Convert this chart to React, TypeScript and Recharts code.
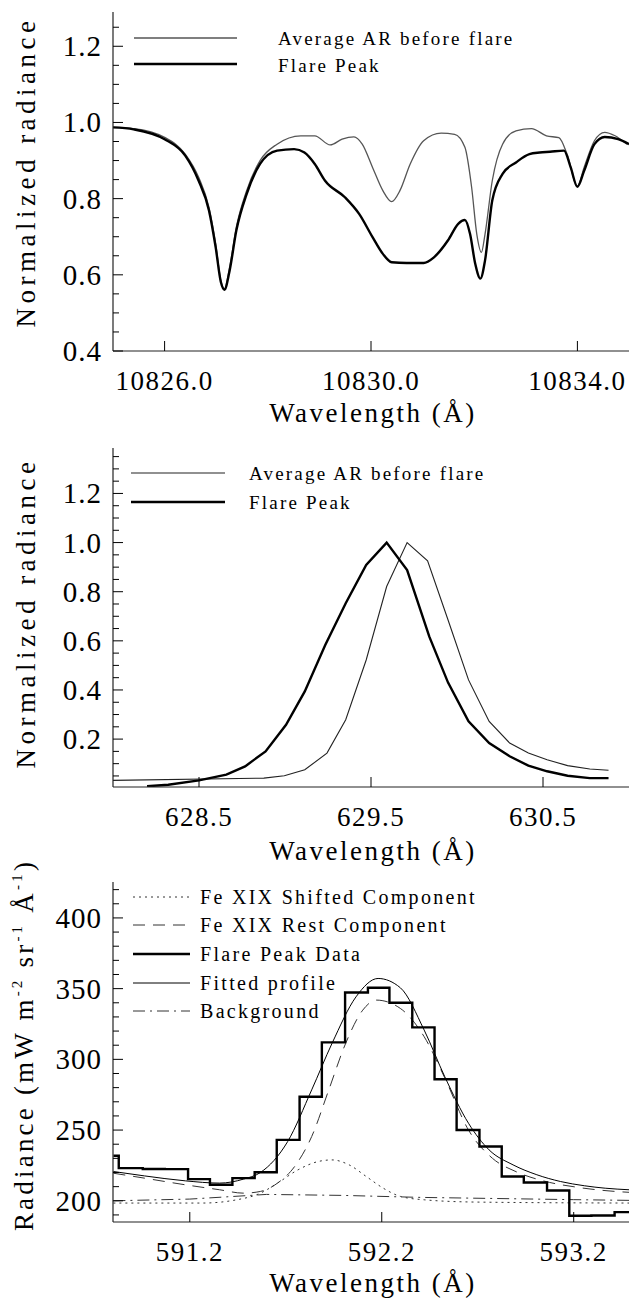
import React from 'react';
import { LineChart, Line, XAxis, YAxis } from 'recharts';

// ---- panel 1: He I 10830 region ----
const p1Wave = [10825.0, 10825.4, 10826.0, 10826.4, 10826.66, 10826.86, 10826.99, 10827.09, 10827.16, 10827.26, 10827.39, 10827.59, 10827.85, 10828.18, 10828.64, 10828.91, 10829.21, 10829.44, 10829.67, 10829.83, 10830.03, 10830.23, 10830.4, 10830.56, 10830.76, 10831.02, 10831.36, 10831.62, 10831.82, 10831.95, 10832.05, 10832.14, 10832.21, 10832.35, 10832.55, 10832.81, 10833.11, 10833.4, 10833.64, 10833.8, 10834.0, 10834.13, 10834.33, 10834.53, 10834.73, 10834.96];
const p1Avg = [0.987, 0.984, 0.961, 0.917, 0.856, 0.777, 0.681, 0.585, 0.563, 0.62, 0.725, 0.821, 0.9, 0.943, 0.965, 0.965, 0.941, 0.956, 0.962, 0.943, 0.882, 0.821, 0.792, 0.821, 0.891, 0.952, 0.972, 0.969, 0.935, 0.83, 0.707, 0.659, 0.707, 0.847, 0.943, 0.978, 0.984, 0.965, 0.96, 0.917, 0.833, 0.882, 0.952, 0.974, 0.965, 0.943];
const p1FlareWave = [10825.0, 10825.4, 10826.0, 10826.4, 10826.66, 10826.86, 10826.99, 10827.09, 10827.16, 10827.26, 10827.39, 10827.59, 10827.85, 10828.18, 10828.51, 10828.71, 10828.91, 10829.11, 10829.5, 10829.77, 10830.03, 10830.23, 10830.4, 10830.69, 10831.02, 10831.22, 10831.49, 10831.69, 10831.82, 10831.92, 10832.02, 10832.12, 10832.21, 10832.35, 10832.55, 10832.81, 10833.07, 10833.27, 10833.47, 10833.74, 10833.87, 10834.0, 10834.13, 10834.33, 10834.53, 10834.79, 10835.0];
const p1Flare = [0.987, 0.982, 0.956, 0.913, 0.847, 0.769, 0.672, 0.581, 0.561, 0.611, 0.716, 0.812, 0.891, 0.926, 0.93, 0.921, 0.891, 0.847, 0.803, 0.76, 0.699, 0.655, 0.633, 0.631, 0.631, 0.646, 0.69, 0.734, 0.744, 0.707, 0.629, 0.59, 0.638, 0.795, 0.865, 0.895, 0.917, 0.921, 0.923, 0.926, 0.882, 0.831, 0.873, 0.943, 0.962, 0.956, 0.943];
const p1XTicks = [10826, 10830, 10834];
const p1YTicks = [0.4, 0.6, 0.8, 1.0, 1.2];

// ---- panel 2: Fe XIX 629 line ----
const p2AvgWave = [628.0, 628.877, 628.996, 629.115, 629.244, 629.353, 629.472, 629.591, 629.71, 629.829, 629.948, 630.067, 630.187, 630.306, 630.415, 630.524, 630.643, 630.772, 630.881];
const p2Avg = [0.032, 0.041, 0.051, 0.075, 0.143, 0.279, 0.522, 0.821, 1.0, 0.926, 0.685, 0.441, 0.272, 0.184, 0.143, 0.116, 0.092, 0.078, 0.073];
const p2FlareWave = [628.198, 628.321, 628.5, 628.659, 628.768, 628.887, 629.006, 629.115, 629.234, 629.353, 629.472, 629.591, 629.71, 629.839, 629.948, 630.067, 630.187, 630.306, 630.415, 630.524, 630.643, 630.772, 630.881];
const p2Flare = [0.008, 0.014, 0.032, 0.055, 0.089, 0.15, 0.258, 0.394, 0.583, 0.753, 0.909, 1.0, 0.888, 0.617, 0.43, 0.272, 0.184, 0.13, 0.092, 0.069, 0.051, 0.041, 0.041];
const p2XTicks = [628.5, 629.5, 630.5];
const p2YTicks = [0.2, 0.4, 0.6, 0.8, 1.0, 1.2];

// ---- panel 3: Fe XIX 592 fit ----
const p3BinEdge = [590.802, 590.83, 590.955, 591.07, 591.191, 591.305, 591.422, 591.538, 591.653, 591.772, 591.888, 592.009, 592.128, 592.24, 592.359, 592.475, 592.59, 592.709, 592.825, 592.94, 593.061, 593.177, 593.292, 593.413, 593.488];
const p3Data = [231.8, 223.1, 222.5, 222.4, 215.3, 211.3, 216.0, 220.2, 243.1, 273.6, 312.0, 347.3, 350.6, 340.0, 322.6, 285.9, 250.1, 238.4, 217.2, 212.9, 207.3, 189.4, 189.6, 192.0, 192.0];
const p3FitWave = [590.802, 590.964, 591.177, 591.355, 591.479, 591.568, 591.71, 591.835, 591.941, 592.066, 592.181, 592.297, 592.421, 592.528, 592.652, 592.759, 592.884, 593.008, 593.132, 593.257, 593.364, 593.488];
const p3Fit = [220.7, 217.6, 214.1, 212.5, 215.3, 220.0, 241.9, 278.4, 311.3, 344.2, 357.2, 350.6, 320.7, 287.8, 254.8, 236.0, 225.4, 218.4, 213.6, 210.6, 208.9, 207.8];
const p3RestWave = [590.802, 590.964, 591.177, 591.355, 591.479, 591.568, 591.657, 591.746, 591.835, 591.924, 592.012, 592.101, 592.172, 592.297, 592.421, 592.528, 592.652, 592.777, 592.901, 593.044, 593.221, 593.417, 593.488];
const p3Rest = [219.5, 216.0, 211.3, 207.8, 205.4, 206.6, 212.5, 224.2, 245.4, 278.4, 311.3, 334.8, 341.9, 336.0, 316.0, 287.0, 250.0, 230.0, 220.5, 214.0, 209.5, 206.6, 206.0];
const p3ShiftWave = [590.802, 591.266, 591.444, 591.568, 591.657, 591.764, 591.87, 591.941, 592.03, 592.119, 592.208, 592.297, 592.421, 592.688, 593.488];
const p3Shift = [198.4, 198.4, 200.7, 205.4, 212.5, 221.9, 227.8, 228.9, 225.4, 217.2, 208.9, 203.1, 200.7, 199.1, 198.4];
const p3BgWave = [590.802, 591.2, 591.6, 592.0, 592.4, 592.8, 593.2, 593.488];
const p3Bg = [200.0, 201.2, 204.5, 203.8, 202.4, 201.6, 200.8, 200.3];
const p3XTicks = [591.2, 592.2, 593.2];
const p3YTicks = [200, 250, 300, 350, 400];

const FONT = "'Liberation Serif', 'DejaVu Serif', serif";
const INK = '#000';

const zip = (xs: number[], ys: number[]) => xs.map((x, i) => ({ x, y: ys[i] }));

const steps = (from: number, to: number, step: number) => {
  const out: number[] = [];
  for (let v = from; v <= to + step / 100; v += step) out.push(Math.round(v * 1000) / 1000);
  return out;
};

type Side = 'left' | 'right' | 'top' | 'bottom';

function makeTick(side: Side, majors: number[], fmt?: (v: number) => string) {
  return (props: any) => {
    const { x, y, payload } = props;
    const v = payload.value as number;
    const major = majors.some((m) => Math.abs(m - v) < 1e-6);
    const len = major ? 10 : 6;
    let line = null;
    let label = null;
    if (side === 'left') {
      line = <line x1={x} y1={y} x2={x + len} y2={y} stroke={INK} strokeWidth={1} />;
      if (major && fmt)
        label = (
          <text x={x - 11} y={y + 10} textAnchor="end" style={{ fontFamily: FONT, fontSize: 29, letterSpacing: 1 }} fill={INK}>
            {fmt(v)}
          </text>
        );
    } else if (side === 'right') {
      line = <line x1={x} y1={y} x2={x - len} y2={y} stroke={INK} strokeWidth={1} />;
    } else if (side === 'bottom') {
      line = <line x1={x} y1={y} x2={x} y2={y - len} stroke={INK} strokeWidth={1} />;
      if (major && fmt)
        label = (
          <text x={x} y={y + 39} textAnchor="middle" style={{ fontFamily: FONT, fontSize: 27, letterSpacing: 1.5 }} fill={INK}>
            {fmt(v)}
          </text>
        );
    } else {
      line = <line x1={x} y1={y} x2={x} y2={y + len} stroke={INK} strokeWidth={1} />;
    }
    return (
      <g>
        {line}
        {label}
      </g>
    );
  };
}

interface PanelProps {
  top: number;
  height: number;
  plotTop: number;
  plotBottom: number;
  xDomain: [number, number];
  yDomain: [number, number];
  xTicks: number[];
  yTicks: number[];
  yMinor: number[];
  xFmt: (v: number) => string;
  yFmt: (v: number) => string;
  children: React.ReactNode;
}

function Panel({ top, height, plotTop, plotBottom, xDomain, yDomain, xTicks, yTicks, yMinor, xFmt, yFmt, children }: PanelProps) {
  const axisLine = { stroke: '#222', strokeWidth: 1.2 };
  return (
    <div style={{ position: 'absolute', left: 0, top, width: 636, height }}>
      <LineChart width={636} height={height} margin={{ top: plotTop - top, right: 7, left: 0, bottom: 0 }}>
        <XAxis
          xAxisId="b"
          type="number"
          dataKey="x"
          orientation="bottom"
          domain={xDomain}
          allowDataOverflow
          ticks={xTicks}
          interval={0}
          height={top + height - plotBottom}
          tickSize={0}
          tickMargin={0}
          tickLine={false}
          axisLine={axisLine}
          tick={makeTick('bottom', xTicks, xFmt)}
        />
        <XAxis
          xAxisId="t"
          type="number"
          dataKey="x"
          orientation="top"
          domain={xDomain}
          allowDataOverflow
          ticks={xTicks}
          interval={0}
          height={0}
          tickSize={0}
          tickMargin={0}
          tickLine={false}
          axisLine={axisLine}
          tick={makeTick('top', xTicks)}
        />
        <YAxis
          yAxisId="l"
          type="number"
          orientation="left"
          domain={yDomain}
          allowDataOverflow
          ticks={yMinor}
          interval={0}
          width={113}
          tickSize={0}
          tickMargin={0}
          tickLine={false}
          axisLine={axisLine}
          tick={makeTick('left', yTicks, yFmt)}
        />
        <YAxis
          yAxisId="r"
          type="number"
          orientation="right"
          domain={yDomain}
          allowDataOverflow
          ticks={yMinor}
          interval={0}
          width={0}
          tickSize={0}
          tickMargin={0}
          tickLine={false}
          axisLine={axisLine}
          tick={makeTick('right', yTicks)}
        />
        {children}
      </LineChart>
    </div>
  );
}

const seriesLine = (
  key: string,
  data: { x: number; y: number }[],
  type: any,
  color: string,
  width: number,
  dash?: string
) => (
  <Line
    key={key}
    xAxisId="b"
    yAxisId="l"
    data={data}
    dataKey="y"
    type={type}
    stroke={color}
    strokeWidth={width}
    strokeDasharray={dash}
    dot={false}
    activeDot={false}
    isAnimationActive={false}
  />
);

const title = (size: number, spacing: number): React.CSSProperties => ({
  fontFamily: FONT,
  fontSize: size,
  letterSpacing: spacing,
});

export default function App() {
  return (
    <div style={{ position: 'absolute', left: 0, top: 0, width: 636, height: 1301, background: '#fff', overflow: 'hidden' }}>
      <Panel
        top={0}
        height={440}
        plotTop={12}
        plotBottom={351}
        xDomain={[10825, 10835]}
        yDomain={[0.4, 1.29]}
        xTicks={p1XTicks}
        yTicks={p1YTicks}
        yMinor={steps(0.4, 1.25, 0.05)}
        xFmt={(v) => v.toFixed(1)}
        yFmt={(v) => v.toFixed(1)}
      >
        {seriesLine('avg', zip(p1Wave, p1Avg), 'monotone', '#555', 1.3)}
        {seriesLine('flare', zip(p1FlareWave, p1Flare), 'monotone', '#000', 2.4)}
      </Panel>

      <Panel
        top={440}
        height={440}
        plotTop={448}
        plotBottom={787}
        xDomain={[628.0, 631.0]}
        yDomain={[0.005, 1.385]}
        xTicks={p2XTicks}
        yTicks={p2YTicks}
        yMinor={steps(0.05, 1.35, 0.05)}
        xFmt={(v) => v.toFixed(1)}
        yFmt={(v) => v.toFixed(1)}
      >
        {seriesLine('avg', zip(p2AvgWave, p2Avg), 'linear', '#222', 1.1)}
        {seriesLine('flare', zip(p2FlareWave, p2Flare), 'linear', '#000', 2.4)}
      </Panel>

      <Panel
        top={880}
        height={421}
        plotTop={882}
        plotBottom={1222}
        xDomain={[590.8, 593.488]}
        yDomain={[185, 425.4]}
        xTicks={p3XTicks}
        yTicks={p3YTicks}
        yMinor={steps(190, 420, 10)}
        xFmt={(v) => v.toFixed(1)}
        yFmt={(v) => v.toFixed(0)}
      >
        {seriesLine('bg', zip(p3BgWave, p3Bg), 'linear', '#333', 1, '12 5 2 5')}
        {seriesLine('shift', zip(p3ShiftWave, p3Shift), 'monotone', '#333', 1, '2 4')}
        {seriesLine('rest', zip(p3RestWave, p3Rest), 'monotone', '#333', 1, '12 8')}
        {seriesLine('data', zip(p3BinEdge, p3Data), 'stepAfter', '#000', 2.4)}
        {seriesLine('fit', zip(p3FitWave, p3Fit), 'monotone', '#000', 1)}
      </Panel>

      {/* titles and legends */}
      <svg width={636} height={1301} style={{ position: 'absolute', left: 0, top: 0, pointerEvents: 'none' }}>
        <text x={35} y={172} fill={INK} style={title(27, 4.5)} textAnchor="middle" transform="rotate(-90 35 172)">
          Normalized radiance
        </text>
        <text x={373} y={422} fill={INK} style={title(27, 2.5)} textAnchor="middle">
          Wavelength (Å)
        </text>
        <line x1={134} y1={38} x2={237} y2={38} stroke="#555" strokeWidth={1.3} />
        <line x1={134} y1={64} x2={237} y2={64} stroke="#000" strokeWidth={2.4} />
        <text x={278} y={45} fill={INK} style={title(19, 2.2)}>Average AR before flare</text>
        <text x={278} y={72} fill={INK} style={title(19, 2.2)}>Flare Peak</text>

        <text x={35} y={613} fill={INK} style={title(27, 4.5)} textAnchor="middle" transform="rotate(-90 35 613)">
          Normalized radiance
        </text>
        <text x={373} y={860} fill={INK} style={title(27, 2.5)} textAnchor="middle">
          Wavelength (Å)
        </text>
        <line x1={131} y1={473} x2={225} y2={473} stroke="#222" strokeWidth={1.1} />
        <line x1={131} y1={502} x2={225} y2={502} stroke="#000" strokeWidth={2.4} />
        <text x={249} y={480} fill={INK} style={title(19, 2.2)}>Average AR before flare</text>
        <text x={249} y={509} fill={INK} style={title(19, 2.2)}>Flare Peak</text>

        <text x={33} y={1045} fill={INK} style={title(27, 3.2)} textAnchor="middle" transform="rotate(-90 33 1045)">
          Radiance (mW m<tspan fontSize={15} dy={-11}>-2</tspan>
          <tspan dy={11}> sr</tspan>
          <tspan fontSize={15} dy={-11}>-1</tspan>
          <tspan dy={11}> Å</tspan>
          <tspan fontSize={15} dy={-11}>-1</tspan>
          <tspan dy={11}>)</tspan>
        </text>
        <text x={373} y={1292} fill={INK} style={title(27, 2.5)} textAnchor="middle">
          Wavelength (Å)
        </text>
        <line x1={133} y1={897} x2={190} y2={897} stroke="#333" strokeWidth={1} strokeDasharray="2 4" />
        <line x1={133} y1={925} x2={190} y2={925} stroke="#333" strokeWidth={1} strokeDasharray="12 8" />
        <line x1={133} y1={954} x2={190} y2={954} stroke="#000" strokeWidth={2.4} />
        <line x1={133} y1={983} x2={190} y2={983} stroke="#000" strokeWidth={1} />
        <line x1={133} y1={1011} x2={190} y2={1011} stroke="#333" strokeWidth={1} strokeDasharray="12 5 2 5" />
        <text x={200} y={904} fill={INK} style={title(20, 2.3)}>Fe XIX Shifted Component</text>
        <text x={200} y={932} fill={INK} style={title(20, 2.3)}>Fe XIX Rest Component</text>
        <text x={200} y={961} fill={INK} style={title(20, 2.3)}>Flare Peak Data</text>
        <text x={200} y={990} fill={INK} style={title(20, 2.3)}>Fitted profile</text>
        <text x={200} y={1018} fill={INK} style={title(20, 2.3)}>Background</text>
      </svg>
    </div>
  );
}
